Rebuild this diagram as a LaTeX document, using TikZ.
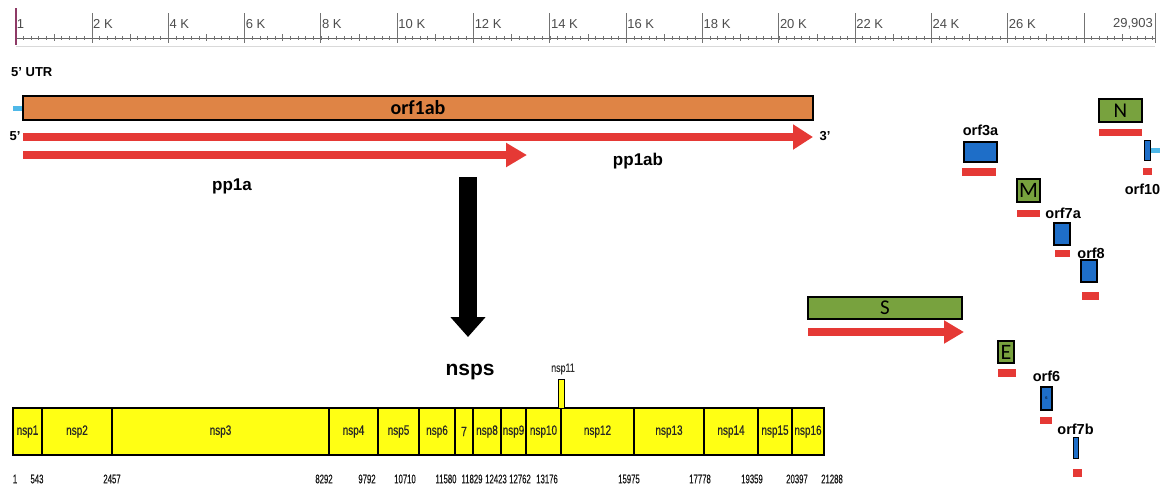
\documentclass[tikz,border=0pt]{standalone}
\usepackage{fontspec}
\setmainfont{Liberation Sans}
\newfontfamily\calfont{Carlito}
\newfontfamily\narrowfont[FakeStretch=0.74,FakeBold=0.4]{Liberation Sans}
\newfontfamily\numfont[FakeStretch=0.62,FakeBold=0.6]{Liberation Sans}
\usetikzlibrary{arrows.meta,positioning}
\definecolor{orfred}{HTML}{E53935}
\definecolor{orforange}{HTML}{DF8445}
\definecolor{genegreen}{HTML}{78A23E}
\definecolor{orfblue}{HTML}{1E6EC8}
\definecolor{utrblue}{HTML}{4FB8E8}
\definecolor{nspyellow}{HTML}{FFFF14}
\definecolor{startpurple}{HTML}{8E3A66}
\begin{document}
\begin{tikzpicture}[x=1pt,y=-1pt,
  tick/.style={draw=black!55,line width=0.6pt},
  ticklbl/.style={anchor=west,inner sep=1pt,text=black!70,font=\fontsize{13pt}{13pt}\selectfont},
  box/.style={draw=black,line width=1.5pt,inner sep=0pt},
  orfbox/.style={box,fill=orfblue,line width=1.2pt},
  genebox/.style={box,fill=genegreen,font=\calfont\fontsize{21pt}{21pt}\selectfont},
  redbar/.style={fill=orfred,inner sep=0pt,minimum height=7pt},
  lbl/.style={inner sep=1pt,font=\fontsize{14.5pt}{15pt}\selectfont\bfseries},
  redarrow/.style={draw=orfred,line width=8pt,-{Triangle[length=20pt,width=24pt]}},
  nspbox/.style={draw=black,line width=1.5pt,fill=nspyellow,minimum height=47pt,inner sep=0pt,text=black!85,font=\narrowfont\fontsize{13.5pt}{13.5pt}\selectfont},
  numlbl/.style={inner sep=0pt,text=black!90,font=\numfont\fontsize{12.5pt}{12.5pt}\selectfont}]
\useasboundingbox (0,0) rectangle (1161,488);
%ruler
\draw[gray!30,line width=1pt] (15.7,46) -- (1155,46);
\draw[black!60,line width=0.8pt] (15.7,38) -- (1155,38);
\foreach \k in {0,...,149} \draw[tick] ({15.7+\k*7.631},36) -- ++(0,4);
\foreach \k in {0,...,14} \draw[tick] ({15.7+(\k+0.5)*76.31},34) -- ++(0,7);
\foreach \k in {1,...,14} {
  \draw[tick,line width=0.9pt] ({15.7+\k*76.31},13) -- ++(0,30);
  \pgfmathtruncatemacro\lab{2*\k}
  \ifnum\k<14 \node[ticklbl] (tk\k) at ({15.7+\k*76.31},24) {\lab\ K}; \fi
}
\draw[draw=startpurple,line width=1.6pt] (15.7,8) -- (15.7,45);
\node[ticklbl] (tk0) at (15.7,24) {1};
\draw[tick,line width=0.9pt] (1155,13) -- (1155,43);
\node[ticklbl,anchor=east] (tkend) at (1154,24) {29,903};
%orf1ab and polyproteins
\begin{scope}[every node/.style={font=\fontsize{13pt}{13pt}\selectfont\bfseries}]
\node[anchor=west,inner sep=0pt] (utrlbl) at (11,72) {5' UTR};
\node (five) at (15,136) {5'};
\node (three) at (825,136) {3'};
\end{scope}
\node[box,fill=orforange,minimum width=790pt,minimum height=24pt,font=\calfont\bfseries\fontsize{20pt}{20pt}\selectfont] (orf1ab) at (418,108) {orf1ab};
\coordinate (utr) at (13,108);
\draw[utrblue,line width=5pt] (utr) -- (orf1ab.west);
\coordinate (pp1ab-s) at (23,137);
\coordinate (pp1ab-e) at (813,137);
\coordinate (pp1a-s) at (23,155);
\coordinate (pp1a-e) at (527,155);
\draw[redarrow] (pp1ab-s) -- (pp1ab-e);
\draw[redarrow,-{Triangle[length=21pt,width=23pt]}] (pp1a-s) -- (pp1a-e);
\node[font=\fontsize{17pt}{17pt}\selectfont\bfseries] (pp1a) at (232,186) {pp1a};
\node[font=\fontsize{17pt}{17pt}\selectfont\bfseries] (pp1ab) at (638,161) {pp1ab};
%cleavage
\coordinate (cut-s) at (468,177);
\coordinate (cut-e) at (468,337);
\draw[line width=18pt,-{Triangle[length=20pt,width=34pt]}] (cut-s) -- (cut-e);
\node[font=\fontsize{21pt}{21pt}\selectfont\bfseries] (nsps) at (470,372) {nsps};
%nsps
\foreach \a/\b/\lab [count=\i, evaluate=\a as \w using \b-\a, evaluate=\a as \c using (\a+\b)/2] in
  {13/42/nsp1, 42/112/nsp2, 112/329/nsp3, 329/378/nsp4, 378/419/nsp5, 419/455/nsp6,
   455/473/7, 473/501/nsp8, 501/526/nsp9, 526/561/nsp10, 561/634/nsp12, 634/704/nsp13,
   704/758/nsp14, 758/792/nsp15, 792/824/nsp16}
  \node[nspbox,minimum width=\w pt] (box\i) at (\c,431.5) {\lab};
\node[nspbox,minimum width=6pt,minimum height=29pt,line width=1pt] (nsp11) at (561,393.5) {};
\node[font=\narrowfont\fontsize{12pt}{12pt}\selectfont,text=black!80] (nsp11lbl) at (563,369) {nsp11};
\foreach \x/\n in {15/1, 37/543, 112/2457, 324/8292, 367/9792, 405/10710, 446/11580,
   472/11829, 496/12423, 520/12762, 547/13176, 629/15975, 700/17778, 752/19359,
   797/20397, 832/21288}
  \node[numlbl] (pos\n) at (\x,479) {\n};
%structural and accessory genes
\node[genebox,minimum width=154pt,minimum height=22pt] (S) at (885,308) {S};
\coordinate (S-s) at (808,332);
\coordinate (S-e) at (964,332);
\draw[redarrow,-{Triangle[length=20pt,width=22pt]}] (S-s) -- (S-e);
\node[genebox,minimum width=16pt,minimum height=22pt,font=\calfont\fontsize{22pt}{22pt}\selectfont] (E) at (1006,352) {E};
\node[redbar,minimum width=18pt,minimum height=8pt] (Ebar) at (1007,373) {};
\node[genebox,minimum width=23pt,minimum height=23pt,font=\calfont\fontsize{22pt}{22pt}\selectfont] (M) at (1028.5,190.5) {M};
\node[redbar,minimum width=23pt] (Mbar) at (1028.5,213.5) {};
\node[genebox,minimum width=43pt,minimum height=23pt] (N) at (1120.5,110.5) {N};
\node[redbar,minimum width=43pt] (Nbar) at (1120.5,132.5) {};
\node[orfbox,minimum width=33pt,minimum height=20pt] (orf3a) at (980.5,152) {};
\node[redbar,minimum width=34pt,minimum height=8pt] (orf3abar) at (979,172) {};
\node[orfbox,minimum width=11pt,minimum height=23pt,font=\fontsize{4pt}{4pt}\selectfont] (orf6) at (1046.5,398.5) {6};
\node[redbar,minimum width=12pt] (orf6bar) at (1046,420.5) {};
\node[orfbox,minimum width=16pt,minimum height=22pt] (orf7a) at (1062,234) {};
\node[redbar,minimum width=15pt] (orf7abar) at (1062.5,253.5) {};
\node[orfbox,minimum width=5pt,minimum height=21pt,line width=1pt] (orf7b) at (1075.5,447.5) {};
\node[redbar,minimum width=9pt,minimum height=8pt] (orf7bbar) at (1077.5,473) {};
\node[orfbox,minimum width=16pt,minimum height=22pt] (orf8) at (1089,271) {};
\node[redbar,minimum width=17pt,minimum height=8pt] (orf8bar) at (1090.5,296) {};
\node[orfbox,minimum width=6pt,minimum height=20pt,line width=1pt] (orf10) at (1147,150) {};
\node[redbar,minimum width=9pt] (orf10bar) at (1147.5,171.5) {};
\coordinate (utr3) at (1160,150);
\draw[utrblue,line width=5pt] (orf10.east) -- (utr3);
\begin{scope}[every node/.style={lbl}]
\node[above=5pt of orf3a] (orf3alab) {orf3a};
\node[right=4pt of Mbar] (orf7alab) {orf7a};
\node[right=6pt of orf7abar] (orf8lab) {orf8};
\node[below=8pt of orf10bar,xshift=-5pt] (orf10lab) {orf10};
\node[above=4pt of orf6] (orf6lab) {orf6};
\node[above=1pt of orf7b] (orf7blab) {orf7b};
\end{scope}
\end{tikzpicture}
\end{document}
